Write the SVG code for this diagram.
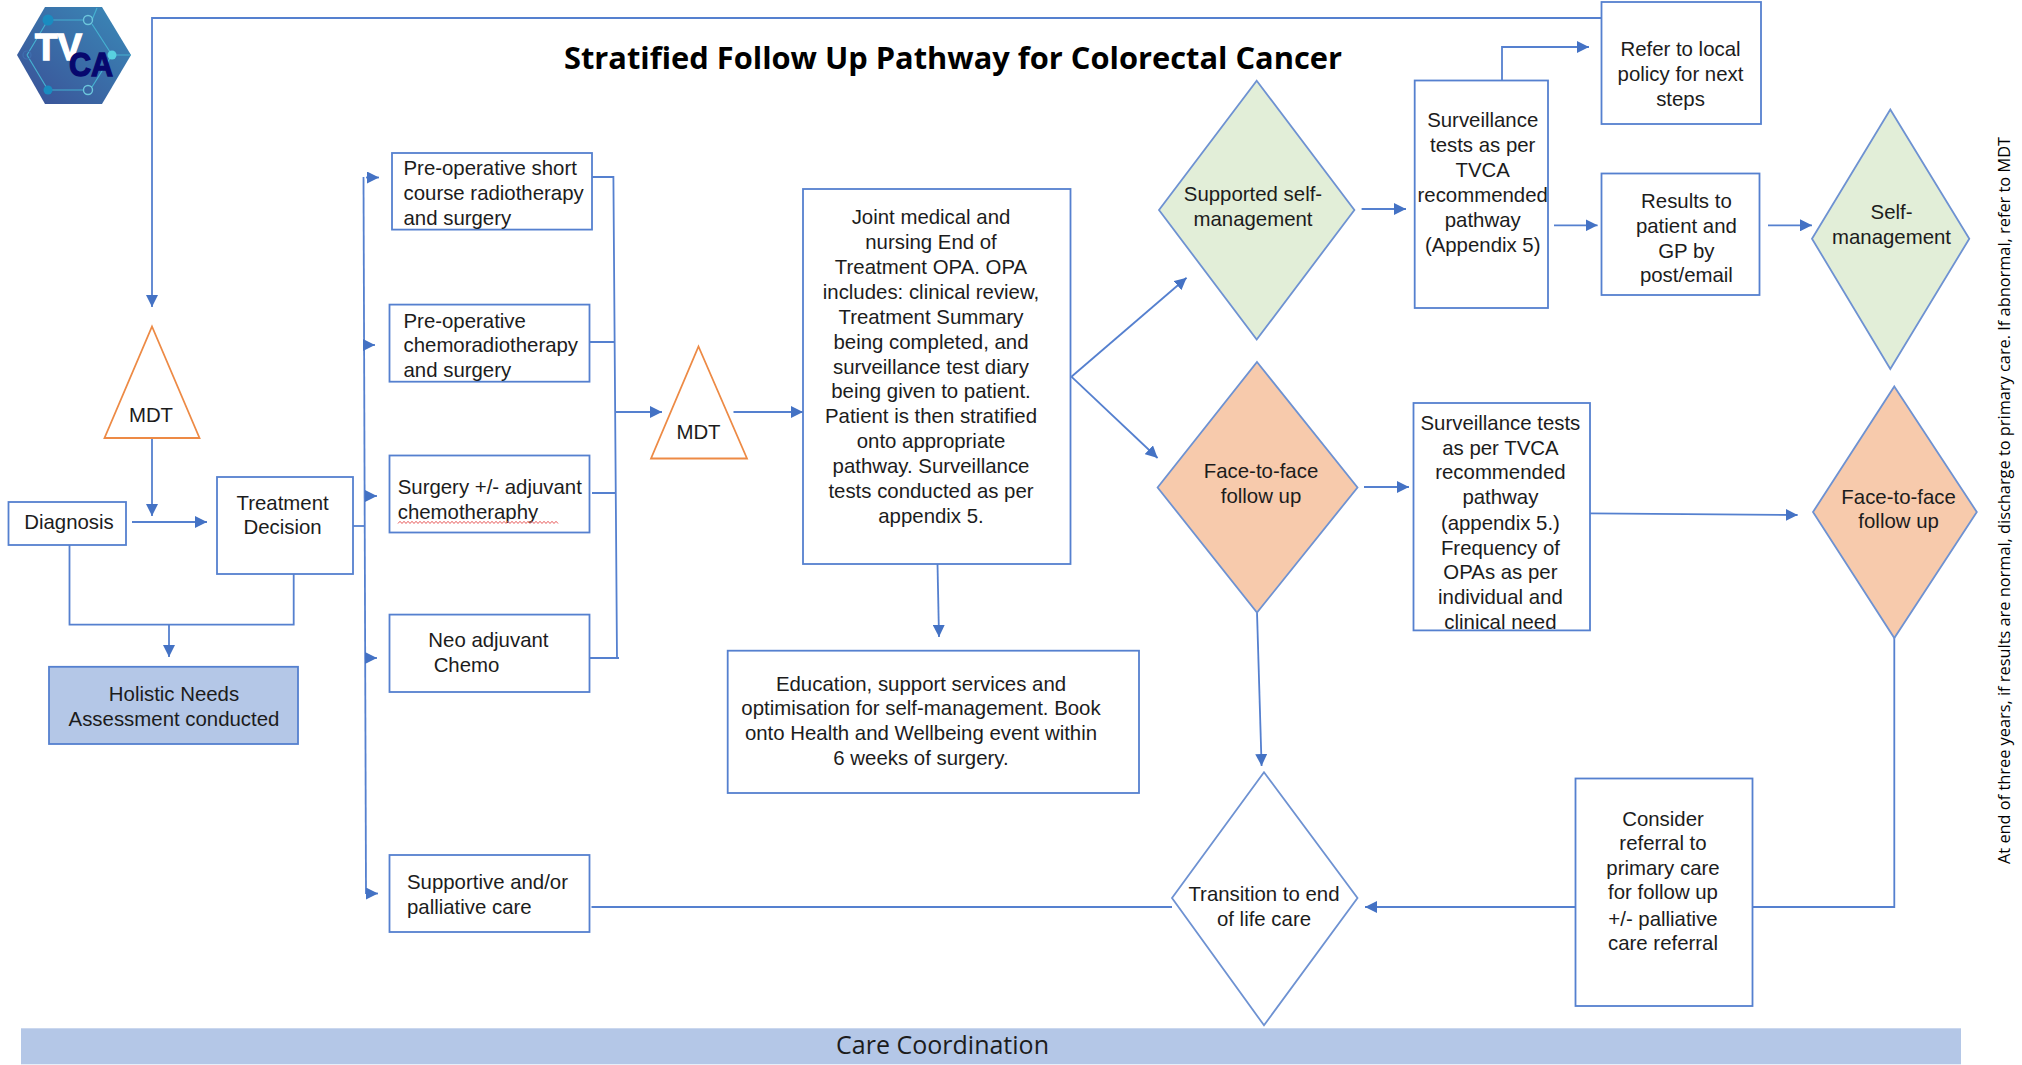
<svg xmlns="http://www.w3.org/2000/svg" width="2022" height="1065" viewBox="0 0 2022 1065">
<style>
.b{fill:#fff;stroke:#5580cf;stroke-width:1.8}
.bf{fill:#b4c7e7;stroke:#5580cf;stroke-width:1.8}
.tri{fill:#fff;stroke:#ed8a45;stroke-width:1.8}
.dg{fill:#e2eed8;stroke:#6e92d2;stroke-width:1.8}
.do{fill:#f7caac;stroke:#6e92d2;stroke-width:1.8}
.dw{fill:#fff;stroke:#6e92d2;stroke-width:1.8}
.c{fill:none;stroke:#5580cf;stroke-width:1.8}
.a{marker-end:url(#ah)}
text{font-family:"Liberation Sans",Arial,sans-serif;font-size:20.4px;fill:#1c1c1c}
.m{text-anchor:middle}
.o{font-family:"Open Sans","Noto Sans",sans-serif}
</style>
<defs>
<marker id="ah" markerUnits="userSpaceOnUse" viewBox="0 0 12 12" refX="12" refY="6" markerWidth="12" markerHeight="12" orient="auto"><path d="M0 0L12 6L0 12Z" fill="#4472c4"/></marker>
<linearGradient id="hex" x1="0" y1="1" x2="1" y2="0"><stop offset="0" stop-color="#3a4f96"/><stop offset="1" stop-color="#3a8ab8"/></linearGradient>
</defs>
<rect width="2022" height="1065" fill="#fff"/>

<g id="logo">
<path d="M17 55L45 7H102L131 55L102 104H45Z" fill="url(#hex)"/>
<path d="M48 20H84M92 20L97 8M92 24L112 55H131M48 90H84M92 87L112 55M27 55L48 20M27 55L48 90" fill="none" stroke="#45b0d0" stroke-width="1.2"/>
<circle cx="48" cy="20" r="5.5" fill="#1a8cc0"/><circle cx="48" cy="90" r="4.5" fill="#1a8cc0"/>
<circle cx="88" cy="20" r="4.5" fill="none" stroke="#6cc6dc" stroke-width="1.4"/><circle cx="88" cy="90" r="4.5" fill="none" stroke="#6cc6dc" stroke-width="1.4"/>
<circle cx="112" cy="55" r="4.5" fill="#58d0e0"/><circle cx="27" cy="55" r="4" fill="none" stroke="#3f6fb0" stroke-width="1.2"/>
<text x="35" y="60" textLength="47" lengthAdjust="spacingAndGlyphs" style="font-size:37px;font-weight:bold;fill:#fff;stroke:#fff;stroke-width:1.4">TV</text>
<text x="69" y="76" textLength="44" lengthAdjust="spacingAndGlyphs" style="font-size:34px;font-weight:bold;fill:#07086e;stroke:#07086e;stroke-width:1.4">CA</text>
</g>

<text id="title" class="o" x="564" y="68.5" textLength="778" lengthAdjust="spacingAndGlyphs" style="font-size:31px;font-weight:bold;fill:#000">Stratified Follow Up Pathway for Colorectal Cancer</text>

<g id="connectors">
<path class="c a" d="M1601 18H152V307"/>
<path class="c a" d="M152 438V516"/>
<path class="c a" d="M132 522H207"/>
<path class="c" d="M353 526H365"/>
<path class="c" d="M363.5 177L366 894"/>
<path class="c a" d="M366 177.5H379"/>
<path class="c a" d="M364 345H375"/>
<path class="c a" d="M365 496H377"/>
<path class="c a" d="M365 658H377"/>
<path class="c a" d="M366 893.5H378"/>
<path class="c" d="M69.5 545V624.7H293.7V574"/>
<path class="c a" d="M169 624.7V657"/>
<path class="c" d="M592 177H613.4L617 658M589 658H619M589 342H614.5M592 493H616"/>
<path class="c a" d="M616 412H662"/>
<path class="c a" d="M733.5 412H803"/>
<path class="c a" d="M937.5 564L939 637"/>
<path class="c a" d="M1071.4 376.7L1186.6 277.8"/>
<path class="c a" d="M1071.4 376.7L1157.6 458"/>
<path class="c a" d="M1361.6 209H1406"/>
<path class="c a" d="M1364 487H1409"/>
<path class="c a" d="M1257 612L1261.6 766"/>
<path class="c a" d="M1502 80V47H1589"/>
<path class="c a" d="M1554 225.3H1597.6"/>
<path class="c a" d="M1768 225.3H1812"/>
<path class="c a" d="M1590 513.3L1797.6 515"/>
<path class="c" d="M1894.3 637V907H1752"/>
<path class="c a" d="M1575 907H1365"/>
<path class="c" d="M591.5 907H1172"/>
</g>

<g id="n-mdt1"><path class="tri" d="M152 326.5L199.5 438H104.5Z"/><text class="m" x="151" y="422">MDT</text></g>
<g id="n-diagnosis"><rect class="b" x="8.5" y="502" width="117.5" height="43"/><text class="m" x="69" y="528.5">Diagnosis</text></g>
<g id="n-treatment"><rect class="b" x="217" y="477" width="136" height="97"/><text class="m" x="282.6" y="510">Treatment</text><text class="m" x="282.6" y="534">Decision</text></g>
<g id="n-hna"><rect class="bf" x="49" y="666.8" width="249" height="77.2"/><text class="m" x="174" y="701">Holistic Needs</text><text class="m" x="174" y="725.5">Assessment conducted</text></g>
<g id="n-shortrt"><rect class="b" x="392" y="153" width="200" height="76.6"/><text x="403.5" y="175.3">Pre-operative short</text><text x="403.5" y="200.3">course radiotherapy</text><text x="403.5" y="224.7">and surgery</text></g>
<g id="n-chemort"><rect class="b" x="389.5" y="304.6" width="200" height="77.1"/><text x="403.5" y="327.5">Pre-operative</text><text x="403.5" y="352.3">chemoradiotherapy</text><text x="403.5" y="377">and surgery</text></g>
<g id="n-surgery"><rect class="b" x="389.5" y="455.5" width="200" height="77"/><text x="397.7" y="494.2">Surgery +/- adjuvant</text><text x="397.7" y="518.5">chemotheraphy</text>
<path d="M398 523.5l2 -2.2 2 2.2 2 -2.2 2 2.2 2 -2.2 2 2.2 2 -2.2 2 2.2 2 -2.2 2 2.2 2 -2.2 2 2.2 2 -2.2 2 2.2 2 -2.2 2 2.2 2 -2.2 2 2.2 2 -2.2 2 2.2 2 -2.2 2 2.2 2 -2.2 2 2.2 2 -2.2 2 2.2 2 -2.2 2 2.2 2 -2.2 2 2.2 2 -2.2 2 2.2 2 -2.2 2 2.2 2 -2.2 2 2.2 2 -2.2 2 2.2 2 -2.2 2 2.2 2 -2.2 2 2.2 2 -2.2 2 2.2 2 -2.2 2 2.2 2 -2.2 2 2.2 2 -2.2 2 2.2 2 -2.2 2 2.2 2 -2.2 2 2.2 2 -2.2 2 2.2 2 -2.2 2 2.2 2 -2.2 2 2.2 2 -2.2 2 2.2 2 -2.2 2 2.2 2 -2.2 2 2.2 2 -2.2 2 2.2 2 -2.2 2 2.2 2 -2.2 2 2.2 2 -2.2 2 2.2 2 -2.2 2 2.2 2 -2.2 2 2.2 2 -2.2 2 2.2" fill="none" stroke="#e85a5a" stroke-width="1"/></g>
<g id="n-neo"><rect class="b" x="389.5" y="614.6" width="200" height="77.4"/><text class="m" x="488.4" y="647.3">Neo adjuvant</text><text class="m" x="466.5" y="672">Chemo</text></g>
<g id="n-supportive"><rect class="b" x="389.5" y="855" width="200" height="77"/><text x="407" y="889">Supportive and/or</text><text x="407" y="914">palliative care</text></g>
<g id="n-mdt2"><path class="tri" d="M698.5 346.5L747 458.5H651Z"/><text class="m" x="698.5" y="439">MDT</text></g>
<g id="n-joint"><rect class="b" x="803" y="189" width="267.5" height="375"/>
<text class="m" x="931" y="224.3">Joint medical and</text><text class="m" x="931" y="249.2">nursing End of</text><text class="m" x="931" y="274">Treatment OPA. OPA</text><text class="m" x="931" y="298.9">includes: clinical review,</text><text class="m" x="931" y="323.8">Treatment Summary</text><text class="m" x="931" y="348.7">being completed, and</text><text class="m" x="931" y="373.5">surveillance test diary</text><text class="m" x="931" y="398.4">being given to patient.</text><text class="m" x="931" y="423.3">Patient is then stratified</text><text class="m" x="931" y="448.1">onto appropriate</text><text class="m" x="931" y="473">pathway. Surveillance</text><text class="m" x="931" y="497.9">tests conducted as per</text><text class="m" x="931" y="522.8">appendix 5.</text></g>
<g id="n-education"><rect class="b" x="727.7" y="650.7" width="411.3" height="142.3"/><text class="m" x="921" y="690.7">Education, support services and</text><text class="m" x="921" y="715">optimisation for self-management. Book</text><text class="m" x="921" y="740">onto Health and Wellbeing event within</text><text class="m" x="921" y="764.7">6 weeks of surgery.</text></g>
<g id="n-supported"><path class="dg" d="M1256.7 80.7L1354.4 210L1256.7 339.6L1159 210Z"/><text class="m" x="1253" y="201.3">Supported self-</text><text class="m" x="1253" y="226">management</text></g>
<g id="n-f2f1"><path class="do" d="M1257 362L1357.5 487.5L1257 612.5L1157.6 487.5Z"/><text class="m" x="1261" y="477.8">Face-to-face</text><text class="m" x="1261" y="502.8">follow up</text></g>
<g id="n-transition"><path class="dw" d="M1264 772.3L1357.5 898L1264 1025.3L1172 898Z"/><text class="m" x="1264" y="901">Transition to end</text><text class="m" x="1264" y="925.7">of life care</text></g>
<g id="n-surv1"><rect class="b" x="1414.7" y="80.5" width="133.3" height="227.5"/><text class="m" x="1482.7" y="127.3">Surveillance</text><text class="m" x="1482.7" y="152.3">tests as per</text><text class="m" x="1482.7" y="176.7">TVCA</text><text class="m" x="1482.7" y="201.7">recommended</text><text class="m" x="1482.7" y="227.3">pathway</text><text class="m" x="1482.7" y="252.3">(Appendix 5)</text></g>
<g id="n-refer"><rect class="b" x="1601.5" y="2" width="159.5" height="122"/><text class="m" x="1680.5" y="56.3">Refer to local</text><text class="m" x="1680.5" y="81.3">policy for next</text><text class="m" x="1680.5" y="105.7">steps</text></g>
<g id="n-results"><rect class="b" x="1601.5" y="173.5" width="158" height="121.5"/><text class="m" x="1686.4" y="208">Results to</text><text class="m" x="1686.4" y="233">patient and</text><text class="m" x="1686.4" y="258">GP by</text><text class="m" x="1686.4" y="282.4">post/email</text></g>
<g id="n-self"><path class="dg" d="M1890.3 109.5L1969.3 238.7L1890.3 369L1812 238.7Z"/><text class="m" x="1891.5" y="218.7">Self-</text><text class="m" x="1891.5" y="243.6">management</text></g>
<g id="n-surv2"><rect class="b" x="1413.5" y="403" width="176.5" height="227.4"/><text class="m" x="1500.4" y="430">Surveillance tests</text><text class="m" x="1500.4" y="455">as per TVCA</text><text class="m" x="1500.4" y="479.3">recommended</text><text class="m" x="1500.4" y="504.2">pathway</text><text class="m" x="1500.4" y="529.6">(appendix 5.)</text><text class="m" x="1500.4" y="554.8">Frequency of</text><text class="m" x="1500.4" y="579.3">OPAs as per</text><text class="m" x="1500.4" y="603.8">individual and</text><text class="m" x="1500.4" y="628.6">clinical need</text></g>
<g id="n-f2f2"><path class="do" d="M1894.3 386.5L1976.8 512L1894.3 638L1813 512Z"/><text class="m" x="1898.6" y="503.5">Face-to-face</text><text class="m" x="1898.6" y="528">follow up</text></g>
<g id="n-consider"><rect class="b" x="1575.5" y="778.5" width="177" height="227.5"/><text class="m" x="1663" y="825.6">Consider</text><text class="m" x="1663" y="850.3">referral to</text><text class="m" x="1663" y="875.4">primary care</text><text class="m" x="1663" y="899.2">for follow up</text><text class="m" x="1663" y="925.6">+/- palliative</text><text class="m" x="1663" y="950.4">care referral</text></g>
<g id="n-care"><rect x="21" y="1028.3" width="1940" height="36" fill="#b4c7e7"/><text class="o" x="836" y="1054" textLength="213" lengthAdjust="spacingAndGlyphs" style="font-size:26px">Care Coordination</text></g>
<text id="side-note" class="o" transform="translate(2010,864) rotate(-90)" textLength="727" lengthAdjust="spacingAndGlyphs" style="font-size:16px;fill:#000">At end of three years, if results are normal, discharge to primary care. If abnormal, refer to MDT</text>
</svg>
